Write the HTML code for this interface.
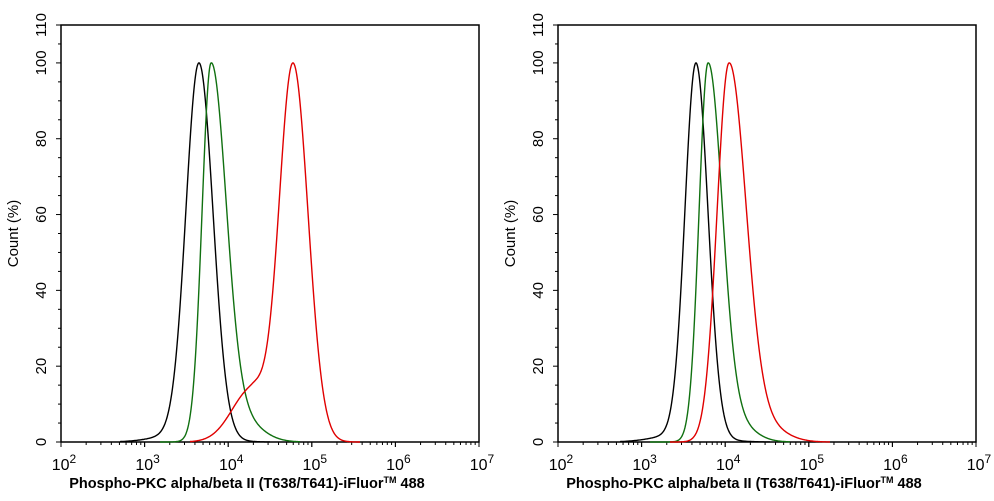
<!DOCTYPE html><html><head><meta charset="utf-8"><style>body{margin:0;background:#fff}svg{display:block}</style></head><body>
<svg id="s" width="994" height="501" xmlns="http://www.w3.org/2000/svg" font-family="Liberation Sans, Arial, sans-serif"></svg>
<script>
const s=document.getElementById('s');let h='';
function g(x,m,sl,sr){const sg=x<m?sl:sr;return Math.exp(-0.5*((x-m)/sg)**2);}
function panel(x0){
 const yb=442,yt=25,py=v=>yb-v*(yb-yt)/110,dec=83.6;
 h+=`<rect x="${x0}" y="${yt}" width="418" height="${yb-yt}" fill="none" stroke="#000" stroke-width="1.5"/>`;
 for(let v=0;v<=110;v+=5){const y=py(v);const L=v%20==0||v==110?5:3;h+=`<line x1="${x0-L}" x2="${x0}" y1="${y}" y2="${y}" stroke="#000"/>`;
  if(v%20==0||v==110)h+=`<text transform="translate(${x0-15},${y}) rotate(-90)" text-anchor="middle" font-size="15">${v}</text>`;}
 for(let d=0;d<5;d++)for(let k=1;k<10;k++){const x=x0+(d+Math.log10(k))*dec;h+=`<line x1="${x}" x2="${x}" y1="${yb}" y2="${yb+(k==1?5:3)}" stroke="#000"/>`;}
 for(let d=0;d<=5;d++){const x=x0+d*dec;h+=`<line x1="${x}" x2="${x}" y1="${yb}" y2="${yb+5}" stroke="#000"/><text x="${x+3}" y="${yb+28}" text-anchor="middle" font-size="16">10<tspan dy="-7" font-size="12">${d+2}</tspan></text>`;}
 h+=`<text transform="translate(${x0-43},${(yb+yt)/2}) rotate(-90)" text-anchor="middle" font-size="15">Count  (%)</text>`;
 h+=`<text x="${x0+186}" y="${yb+46}" text-anchor="middle" font-size="14.5" font-weight="bold">Phospho-PKC alpha/beta II (T638/T641)-iFluor<tspan font-size="9" dy="-5">TM</tspan><tspan dy="5"> 488</tspan></text>`;
 return py;
}
function curve(py,f,a,b,col){let mx=0;for(let x=a;x<=b;x+=0.5)mx=Math.max(mx,f(x));let p='';for(let x=a;x<=b;x+=0.5){p+=(p?'L':'M')+x.toFixed(1)+','+py(100*f(x)/mx).toFixed(1);}h+=`<path d="${p}" fill="none" stroke="${col}" stroke-width="1.4"/>`;}
let py=panel(61);
curve(py,x=>g(x,199,13,14)+0.02*g(x,180,25,30),120,270,'#000');
curve(py,x=>g(x,211,9,15)+0.06*g(x,240,20,20),160,300,'#107010');
curve(py,x=>g(x,293,14,15)+0.14*g(x,252,20,14),190,360,'#e00000');
py=panel(558);
curve(py,x=>g(x,696,11,12)+0.02*g(x,680,25,30),620,770,'#000');
curve(py,x=>g(x,708,9,14)+0.05*g(x,735,18,18),650,790,'#107010');
curve(py,x=>g(x,729,12,17)+0.04*g(x,765,20,20),670,830,'#e00000');
s.innerHTML=h;
</script></body></html>
